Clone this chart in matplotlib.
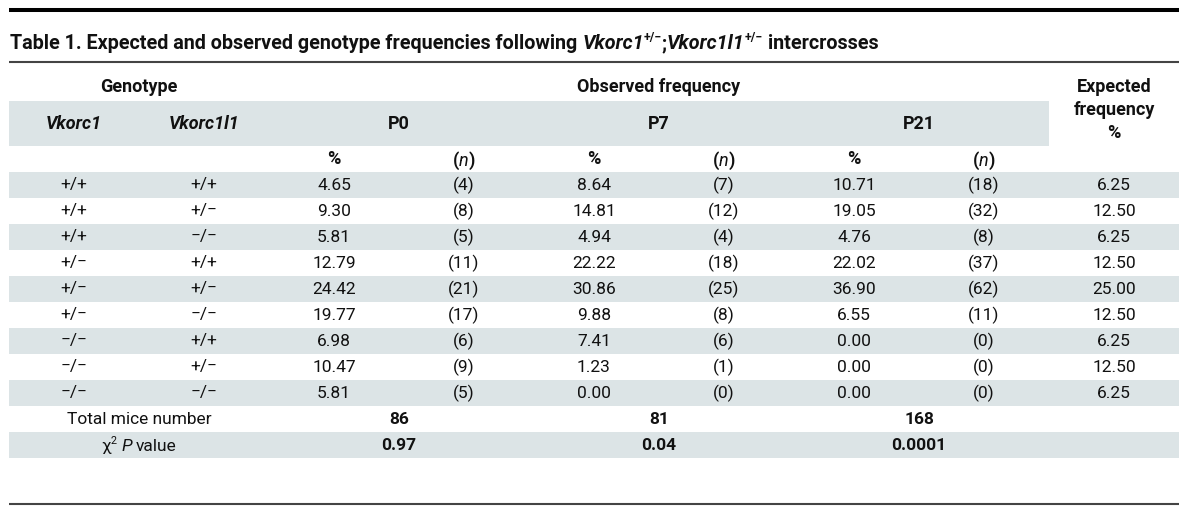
import matplotlib.pyplot as plt
from matplotlib.patches import Rectangle

plt.rcParams['font.family'] = ['Roboto', 'DejaVu Sans']

# Table data
vkorc1 = ['+/+', '+/+', '+/+', '+/−', '+/−', '+/−', '−/−', '−/−', '−/−']
vkorc1l1 = ['+/+', '+/−', '−/−', '+/+', '+/−', '−/−', '+/+', '+/−', '−/−']
p0_pct = [4.65, 9.30, 5.81, 12.79, 24.42, 19.77, 6.98, 10.47, 5.81]
p0_n = [4, 8, 5, 11, 21, 17, 6, 9, 5]
p7_pct = [8.64, 14.81, 4.94, 22.22, 30.86, 9.88, 7.41, 1.23, 0.00]
p7_n = [7, 12, 4, 18, 25, 8, 6, 1, 0]
p21_pct = [10.71, 19.05, 4.76, 22.02, 36.90, 6.55, 0.00, 0.00, 0.00]
p21_n = [18, 32, 8, 37, 62, 11, 0, 0, 0]
expected = [6.25, 12.50, 6.25, 12.50, 25.00, 12.50, 6.25, 12.50, 6.25]
stages = ['P0', 'P7', 'P21']
totals = [86, 81, 168]
p_values = ['0.97', '0.04', '0.0001']

# layout (pixels, y downwards)
W, H, DPI = 1200, 530, 100
LEFT, COLW = 9, 130
RIGHT = LEFT + COLW * 9
ROW0, ROWH = 172, 26
BAND = '#dce4e6'
INK = '#111111'
FS = 12.5
HFS = 13
TITLE_FS = 14.2

fig = plt.figure(figsize=(W / DPI, H / DPI), dpi=DPI)
ax = fig.add_axes([0, 0, 1, 1])
ax.set_xlim(0, W)
ax.set_ylim(H, 0)
ax.axis('off')
renderer = fig.canvas.get_renderer()


def cx(i):
    return LEFT + COLW * (i + 0.5)


def px(pt):
    return pt * DPI / 72


def txt(x, y, s, bold=False, italic=False, size=FS, ha='center'):
    ax.text(x, y, s, ha=ha, va='center', fontsize=size, color=INK,
            fontweight='bold' if bold else 'normal',
            fontstyle='italic' if italic else 'normal')


def width(s, size, bold, italic):
    t = ax.text(0, 0, s, fontsize=size,
                fontweight='bold' if bold else 'normal',
                fontstyle='italic' if italic else 'normal')
    w = t.get_window_extent(renderer).width
    t.remove()
    return w


def rich(x, y, segs, size=FS, ha='center'):
    # segs: (text, bold, italic, sup, space_before)
    base = y + 0.36 * px(size)
    items = []
    total = 0
    for s, bold, italic, sup, space in segs:
        fs = size * 0.62 if sup else size
        if space:
            total += width('a a', size, bold, False) - width('aa', size, bold, False)
        w = width(s, fs, bold, italic)
        items.append((total, s, fs, bold, italic, sup))
        total += w
    x0 = x - total / 2 if ha == 'center' else x
    for off, s, fs, bold, italic, sup in items:
        yy = base - 0.42 * px(size) if sup else base
        ax.text(x0 + off, yy, s, ha='left', va='baseline', fontsize=fs, color=INK,
                fontweight='bold' if bold else 'normal',
                fontstyle='italic' if italic else 'normal')


# rules
ax.plot([LEFT, RIGHT], [9.5, 9.5], color='black', lw=2.9, solid_capstyle='butt')
ax.plot([LEFT, RIGHT], [62, 62], color='#444444', lw=1.5, solid_capstyle='butt')
ax.plot([LEFT, RIGHT], [504, 504], color='#444444', lw=1.5, solid_capstyle='butt')

# title
rich(10, 42, [
    ('Table 1. Expected and observed genotype frequencies following', True, False, False, False),
    ('Vkorc1', True, True, False, True),
    ('+/−', True, False, True, False),
    (';', True, False, False, False),
    ('Vkorc1l1', True, True, False, False),
    ('+/−', True, False, True, False),
    ('intercrosses', True, False, False, True),
], size=TITLE_FS, ha='left')

# header band and labels
ax.add_patch(Rectangle((LEFT, 101), COLW * 8, 45, color=BAND, lw=0))
txt(LEFT + COLW, 87, 'Genotype', bold=True, size=HFS)
txt(LEFT + COLW * 5, 87, 'Observed frequency', bold=True, size=HFS)
txt(cx(8), 87, 'Expected', bold=True, size=HFS)
txt(cx(8), 110, 'frequency', bold=True, size=HFS)
txt(cx(8), 133, '%', bold=True, size=HFS)
txt(cx(0), 124, 'Vkorc1', bold=True, italic=True, size=HFS)
txt(cx(1), 124, 'Vkorc1l1', bold=True, italic=True, size=HFS)
for g, st in enumerate(stages):
    txt(LEFT + COLW * (3 + 2 * g), 124, st, bold=True, size=HFS)
    txt(cx(2 + 2 * g), 159, '%', bold=True, size=HFS)
    rich(cx(3 + 2 * g), 159, [('(', True, False, False, False),
                              ('n', False, True, False, False),
                              (')', True, False, False, False)], size=HFS)

# body
for i in range(11):
    if i % 2 == 0:
        ax.add_patch(Rectangle((LEFT, ROW0 + i * ROWH), RIGHT - LEFT, ROWH, color=BAND, lw=0))

for i in range(len(vkorc1)):
    y = ROW0 + ROWH * (i + 0.5)
    row = [vkorc1[i], vkorc1l1[i],
           f'{p0_pct[i]:.2f}', f'({p0_n[i]})',
           f'{p7_pct[i]:.2f}', f'({p7_n[i]})',
           f'{p21_pct[i]:.2f}', f'({p21_n[i]})',
           f'{expected[i]:.2f}']
    for j, s in enumerate(row):
        txt(cx(j), y, s)

y_tot = ROW0 + ROWH * 9.5
y_p = ROW0 + ROWH * 10.5
txt(LEFT + COLW, y_tot, 'Total mice number')
rich(LEFT + COLW, y_p, [('χ', False, False, False, False),
                         ('2', False, False, True, False),
                         ('P', False, True, False, True),
                         ('value', False, False, False, True)])
for g in range(3):
    txt(LEFT + COLW * (3 + 2 * g), y_tot, str(totals[g]), bold=True)
    txt(LEFT + COLW * (3 + 2 * g), y_p, p_values[g], bold=True)

fig.savefig('out.png', dpi=DPI)
